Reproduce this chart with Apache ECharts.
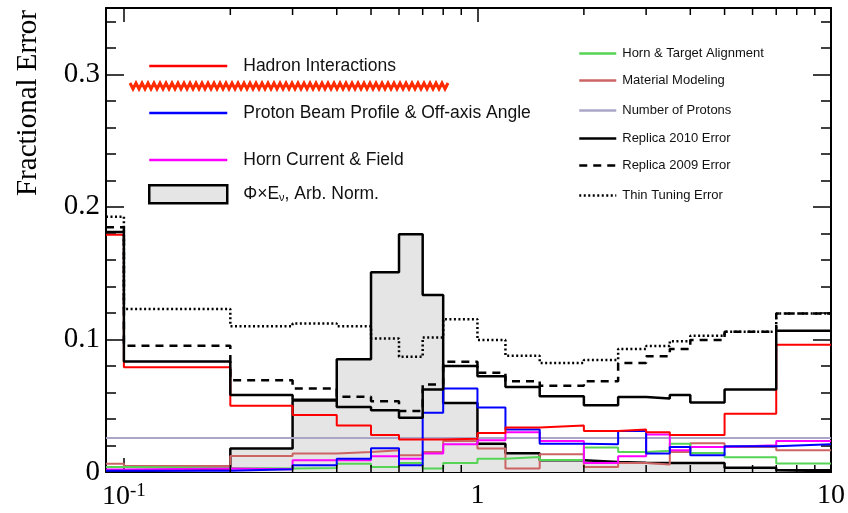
<!DOCTYPE html>
<html>
<head>
<meta charset="utf-8">
<script src="https://cdn.jsdelivr.net/npm/echarts@6/dist/echarts.min.js"></script>
<style>
html, body { margin: 0; padding: 0; background: #fff; }
#chart { width: 848px; height: 513px; }
</style>
</head>
<body>
<div id="chart"></div>
<script>
// neutrino energy bin edges (GeV), first edge = left end of the axis
const binEdges = [0.089, 0.1, 0.2, 0.3, 0.4, 0.5, 0.6, 0.7, 0.8, 1.0, 1.2, 1.5, 2.0, 2.5, 3.0, 3.5, 4.0, 5.0, 7.0, 10.0];

const fluxName = 'ΦxEν';
const flux       = [0.0005, 0.002, 0.0177, 0.054, 0.085, 0.1506, 0.1793, 0.1335, 0.0521, 0.0214, 0.0141, 0.0088, 0.0075, 0.007, 0.0068, 0.0068, 0.0068, 0.0033, 0.0013];
const hadron     = [0.179, 0.079, 0.050, 0.043, 0.035, 0.028, 0.0245, 0.0245, 0.025, 0.0295, 0.0335, 0.035, 0.031, 0.032, 0.030, 0.028, 0.028, 0.044, 0.096];
const beam       = [0.001, 0.001, 0.002, 0.005, 0.010, 0.018, 0.005, 0.0446, 0.063, 0.0486, 0.032, 0.0214, 0.021, 0.031, 0.0139, 0.0189, 0.0126, 0.0195, 0.021];
const hornField  = [0.0018, 0.0026, 0.002, 0.0088, 0.0088, 0.0118, 0.010, 0.0139, 0.0209, 0.024, 0.030, 0.0234, 0.0068, 0.0118, 0.0282, 0.0164, 0.0189, 0.0202, 0.0234];
const alignment  = [0.0038, 0.003, 0.0026, 0.003, 0.0063, 0.0038, 0.0068, 0.0026, 0.0068, 0.010, 0.0113, 0.009, 0.0184, 0.0151, 0.016, 0.0214, 0.0143, 0.0111, 0.0065];
const material   = [0.0063, 0.0045, 0.012, 0.014, 0.0151, 0.0164, 0.0126, 0.0151, 0.0234, 0.0177, 0.0026, 0.0134, 0.0038, 0.0068, 0.0056, 0.0151, 0.0216, 0.0189, 0.0164];
const protons    = [0.0257, 0.0257, 0.0257, 0.0257, 0.0257, 0.0257, 0.0257, 0.0257, 0.0257, 0.0257, 0.0257, 0.0257, 0.0257, 0.0257, 0.0257, 0.0257, 0.0257, 0.0257, 0.0257];
const replica10  = [0.181, 0.0834, 0.058, 0.0545, 0.049, 0.0466, 0.041, 0.0622, 0.080, 0.0723, 0.0642, 0.0572, 0.0504, 0.0566, 0.0554, 0.058, 0.0524, 0.0622, 0.1065];
const replica09  = [0.1846, 0.0952, 0.0693, 0.063, 0.0567, 0.0534, 0.0461, 0.066, 0.0831, 0.0748, 0.0685, 0.065, 0.0685, 0.0823, 0.0874, 0.0927, 0.0995, 0.1057, 0.1196];
const thinTuning = [0.1926, 0.1229, 0.110, 0.112, 0.110, 0.1007, 0.0869, 0.1015, 0.1153, 0.0995, 0.0876, 0.0823, 0.0844, 0.0927, 0.095, 0.0987, 0.1027, 0.1057, 0.1196];

// log-axis minor ticks (GeV)
const xMinorTicks = [0.2, 0.3, 0.4, 0.5, 0.6, 0.7, 0.8, 0.9, 2, 3, 4, 5, 6, 7, 8, 9];

const xMin = 0.089, xMax = 10, yMax = 0.35;

// histogram -> step points
function steps(vals) {
    let pts = vals.map(function (v, i) { return [binEdges[i], v]; });
    pts.push([binEdges[binEdges.length - 1], vals[vals.length - 1]]);
    return pts;
}

function hist(name, vals, color, width, type, extra) {
    let s = {
        name: name,
        type: 'line',
        step: 'end',
        symbol: 'none',
        data: steps(vals),
        itemStyle: { color: color },
        lineStyle: { color: color, width: width, type: type || 'solid' }
    };
    return Object.assign(s, extra || {});
}

let serif = 'Liberation Serif';
let sans = 'Liberation Sans';

function legendAt(name, left, top, size, extra) {
    let l = {
        data: [name],
        left: left,
        top: top,
        padding: 0,
        selectedMode: false,
        itemWidth: size === 'big' ? 78 : 37,
        itemHeight: 14,
        itemStyle: { opacity: 0 },
        lineStyle: { width: 2.5 },
        textStyle: {
            fontFamily: sans,
            fontSize: size === 'big' ? 17.5 : 13,
            color: '#111',
            padding: size === 'big' ? [0, 0, 0, 11] : [0, 0, 0, 1]
        }
    };
    return Object.assign(l, extra || {});
}

let chart = echarts.init(document.getElementById('chart'));

// hand-drawn red scribble over the legend
let squiggle = [];
for (let i = 0; 130 + i * 3 <= 450; i++) {
    squiggle.push([130 + i * 3, i % 2 === 0 ? 83 : 89]);
}

let option = {
    animation: false,
    grid: { left: 106, right: 16, top: 8, bottom: 41 },
    xAxis: [
        {
            type: 'log',
            min: xMin,
            max: xMax,
            axisLine: { show: true, onZero: false, lineStyle: { color: '#000', width: 2 } },
            axisTick: { show: true, inside: true, length: 14, lineStyle: { color: '#000', width: 1.5 } },
            splitLine: { show: false },
            axisLabel: {
                margin: 10,
                color: '#000',
                fontFamily: serif,
                fontSize: 28,
                formatter: function (v) {
                    let l = Math.log10(v);
                    let e = Math.round(l);
                    if (Math.abs(l - e) > 1e-6) return '';
                    if (e < 0) return '{b|10}{s|' + e + '}';
                    return String(Math.pow(10, e));
                },
                rich: {
                    b: { fontFamily: serif, fontSize: 28, color: '#000' },
                    s: { fontFamily: serif, fontSize: 19, color: '#000', verticalAlign: 'top', padding: [0, 0, 10, 0] }
                }
            }
        },
        {
            type: 'log',
            position: 'top',
            min: xMin,
            max: xMax,
            axisLine: { show: true, onZero: false, lineStyle: { color: '#000', width: 2 } },
            axisTick: { show: true, inside: true, length: 14, lineStyle: { color: '#000', width: 1.5 } },
            splitLine: { show: false },
            axisLabel: { show: false }
        }
    ],
    yAxis: [
        {
            type: 'value',
            min: 0,
            max: yMax,
            interval: 0.1,
            axisLine: { show: true, onZero: false, lineStyle: { color: '#000', width: 2 } },
            axisTick: { show: true, inside: true, length: 18, lineStyle: { color: '#000', width: 1.5 } },
            minorTick: { show: true, splitNumber: 5, length: 10, lineStyle: { color: '#000', width: 1.5 } },
            splitLine: { show: false },
            axisLabel: {
                margin: 6,
                showMaxLabel: false,
                color: '#000',
                fontFamily: serif,
                fontSize: 29
            }
        },
        {
            type: 'value',
            position: 'right',
            min: 0,
            max: yMax,
            interval: 0.1,
            axisLine: { show: true, onZero: false, lineStyle: { color: '#000', width: 2 } },
            axisTick: { show: true, inside: true, length: 18, lineStyle: { color: '#000', width: 1.5 } },
            minorTick: { show: true, splitNumber: 5, length: 10, lineStyle: { color: '#000', width: 1.5 } },
            splitLine: { show: false },
            axisLabel: { show: false }
        }
    ],
    legend: [
        legendAt('Hadron Interactions', 148, 57, 'big'),
        legendAt('Proton Beam Profile & Off-axis Angle', 148, 104, 'big'),
        legendAt('Horn Current & Field', 148, 151, 'big'),
        legendAt(fluxName, 148, 184, 'big', {
            itemHeight: 18,
            data: [{
                name: fluxName,
                icon: 'rect',
                itemStyle: { color: '#e5e5e5', borderColor: '#000', borderWidth: 2.5, opacity: 1 }
            }],
            formatter: function () { return '{t|Φ×E}{u|ν}{t|, Arb. Norm.}'; },
            textStyle: {
                padding: [0, 0, 0, 11],
                rich: {
                    t: { fontFamily: sans, fontSize: 17.5, color: '#111' },
                    u: { fontFamily: sans, fontSize: 11, color: '#111', verticalAlign: 'bottom', padding: [8, 0, 0, 0] }
                }
            }
        }),
        legendAt('Horn & Target Alignment', 578, 47, 'small'),
        legendAt('Material Modeling', 578, 74, 'small'),
        legendAt('Number of Protons', 578, 104, 'small'),
        legendAt('Replica 2010 Error', 578, 132, 'small'),
        legendAt('Replica 2009 Error', 578, 159, 'small'),
        legendAt('Thin Tuning Error', 578, 189, 'small')
    ],
    graphic: [
        {
            type: 'text',
            x: 28,
            y: 103,
            rotation: Math.PI / 2,
            style: {
                text: 'Fractional Error',
                fontFamily: serif,
                fontSize: 29,
                fill: '#000',
                align: 'center',
                verticalAlign: 'middle'
            }
        },
        {
            type: 'polyline',
            shape: { points: squiggle },
            style: { stroke: '#ff2a00', lineWidth: 3, fill: null, lineJoin: 'miter' }
        }
    ],
    series: [
        hist(fluxName, flux, '#000', 2.5, 'solid', { areaStyle: { color: '#e5e5e5', opacity: 1 }, z: 1 }),
        hist('Number of Protons', protons, '#aaa6c8', 2),
        hist('Material Modeling', material, '#cd6464', 2),
        hist('Horn & Target Alignment', alignment, '#55d455', 2),
        hist('Horn Current & Field', hornField, '#ff00ff', 2),
        hist('Proton Beam Profile & Off-axis Angle', beam, '#0000ff', 2),
        hist('Hadron Interactions', hadron, '#ff0000', 2),
        hist('Replica 2010 Error', replica10, '#000', 2.5),
        hist('Replica 2009 Error', replica09, '#000', 2.5, [8, 6]),
        hist('Thin Tuning Error', thinTuning, '#000', 2.5, [2, 2.5]),
        {
            type: 'custom',
            name: 'minor ticks',
            silent: true,
            data: xMinorTicks.map(function (v) { return [v, 0]; }),
            encode: { x: 0, y: 1 },
            z: 5,
            renderItem: function (params, api) {
                let x = api.value(0);
                let b = api.coord([x, 0]);
                let t = api.coord([x, yMax]);
                let st = { stroke: '#000', lineWidth: 1.5 };
                return {
                    type: 'group',
                    children: [
                        { type: 'line', shape: { x1: b[0], y1: b[1], x2: b[0], y2: b[1] - 7 }, style: st },
                        { type: 'line', shape: { x1: t[0], y1: t[1], x2: t[0], y2: t[1] + 7 }, style: st }
                    ]
                };
            }
        }
    ]
};

chart.setOption(option);
</script>
</body>
</html>
